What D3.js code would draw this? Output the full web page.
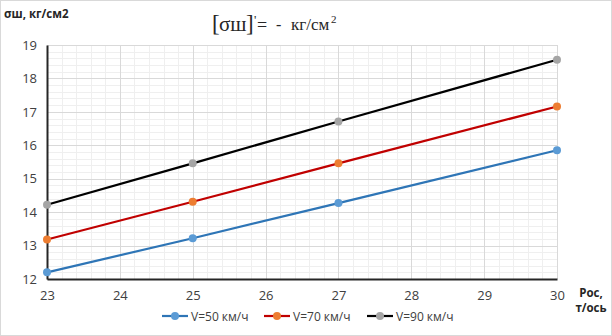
<!DOCTYPE html>
<html><head><meta charset="utf-8">
<script src="https://cdn.jsdelivr.net/npm/d3@7"></script>
<style>body{margin:0;background:#fff}svg{display:block}</style>
</head><body>
<svg id="c" width="612" height="336"></svg>
<script>
const loads = [23, 25, 27, 30];
const series = [
  {name: "V=50 км/ч", values: [12.2, 13.22, 14.27, 15.85], line: "#2e75b6", marker: "#5b9bd5"},
  {name: "V=70 км/ч", values: [13.18, 14.31, 15.46, 17.16], line: "#c00000", marker: "#ed7d31"},
  {name: "V=90 км/ч", values: [14.22, 15.46, 16.71, 18.56], line: "#000000", marker: "#a5a5a5"}
];
const xTicks = [23, 24, 25, 26, 27, 28, 29, 30];
const yTicks = [12, 13, 14, 15, 16, 17, 18, 19];

const svg = d3.select("#c");
const font = "'Open Sans', 'Liberation Sans', sans-serif";
svg.append("rect").attr("x",0.5).attr("y",0.5).attr("width",611).attr("height",335)
  .attr("fill","#fff").attr("stroke","#d9d9d9");

const L = 47, R = 557, T = 45, B = 279;
const x = d3.scaleLinear().domain([23, 30]).range([L, R]);
const y = d3.scaleLinear().domain([12, 19]).range([B, T]);

const g = svg.append("g");
const minorX = d3.range(23, 30.001, 0.2);
const minorY = d3.range(12, 19.001, 0.2);
g.selectAll(".mx").data(minorX).join("line")
  .attr("x1", d => Math.round(x(d))+0.5).attr("x2", d => Math.round(x(d))+0.5)
  .attr("y1", T).attr("y2", B).attr("stroke", "#efefef").attr("stroke-width", 1);
g.selectAll(".my").data(minorY).join("line")
  .attr("y1", d => Math.round(y(d))+0.5).attr("y2", d => Math.round(y(d))+0.5)
  .attr("x1", L).attr("x2", R).attr("stroke", "#efefef").attr("stroke-width", 1);
g.selectAll(".Mx").data(xTicks).join("line")
  .attr("x1", d => Math.round(x(d))+0.5).attr("x2", d => Math.round(x(d))+0.5)
  .attr("y1", T).attr("y2", B).attr("stroke", "#d9d9d9").attr("stroke-width", 1);
g.selectAll(".My").data(yTicks).join("line")
  .attr("y1", d => Math.round(y(d))+0.5).attr("y2", d => Math.round(y(d))+0.5)
  .attr("x1", L).attr("x2", R).attr("stroke", "#d9d9d9").attr("stroke-width", 1);

const xAxis = svg.append("g").attr("transform", `translate(0,${B})`)
  .call(d3.axisBottom(x).tickValues(xTicks).tickSize(0).tickPadding(12).tickFormat(d3.format("d")));
const yAxis = svg.append("g").attr("transform", `translate(${L},0)`)
  .call(d3.axisLeft(y).tickValues(yTicks).tickSize(0).tickPadding(10).tickFormat(d3.format("d")));
[xAxis, yAxis].forEach(a => {
  a.select(".domain").attr("stroke", "#262626").attr("stroke-width", 2);
  a.selectAll("text").attr("font-family", font).attr("font-size", 13).attr("fill", "#404040");
});

const line = d3.line().x((d, i) => x(loads[i])).y(d => y(d));
series.forEach(s => {
  svg.append("path").datum(s.values).attr("d", line)
    .attr("fill", "none").attr("stroke", s.line).attr("stroke-width", 2.2);
  svg.selectAll(null).data(s.values).join("circle")
    .attr("cx", (d, i) => x(loads[i])).attr("cy", d => y(d)).attr("r", 4)
    .attr("fill", s.marker);
});

svg.append("text").attr("x", 4).attr("y", 18).attr("font-family", font)
  .attr("font-size", 11.5).attr("font-weight", "bold").attr("fill", "#262626").text("σш, кг/см2");

const serif = "'Liberation Serif', 'DejaVu Serif', serif";
const t = svg.append("text").attr("font-family", serif).attr("fill", "#262626").attr("y", 31);
t.append("tspan").attr("x", 212).attr("y", 31).attr("font-size", 23).text("[");
t.append("tspan").attr("x", 219).attr("y", 31).attr("font-size", 21).text("σш");
t.append("tspan").attr("x", 246).attr("y", 31).attr("font-size", 23).text("]");
t.append("tspan").attr("x", 254).attr("y", 24).attr("font-size", 13).text("'");
t.append("tspan").attr("x", 257).attr("y", 31).attr("font-size", 18).text("=");
t.append("tspan").attr("x", 276).attr("y", 30).attr("font-size", 16).text("-");
t.append("tspan").attr("x", 291).attr("y", 30).attr("font-size", 17).text("кг/см");
t.append("tspan").attr("x", 331).attr("y", 23).attr("font-size", 11).text("2");

svg.append("text").attr("x", 591).attr("y", 297).attr("text-anchor", "middle").attr("font-family", font)
  .attr("font-size", 11.5).attr("font-weight", "bold").attr("fill", "#262626").text("Рос,");
svg.append("text").attr("x", 591).attr("y", 312).attr("text-anchor", "middle").attr("font-family", font)
  .attr("font-size", 11.5).attr("font-weight", "bold").attr("fill", "#262626").text("т/ось");

const legX = [162, 264, 367];
series.forEach((s, i) => {
  const lg = svg.append("g").attr("transform", `translate(${legX[i]},316)`);
  lg.append("line").attr("x1", 0).attr("x2", 26).attr("stroke", s.line).attr("stroke-width", 2.2);
  lg.append("circle").attr("cx", 13).attr("r", 4).attr("fill", s.marker);
  lg.append("text").attr("x", 29).attr("y", 4.5).attr("font-family", font).attr("font-size", 12)
    .attr("fill", "#404040").text(s.name);
});
</script>
</body></html>
